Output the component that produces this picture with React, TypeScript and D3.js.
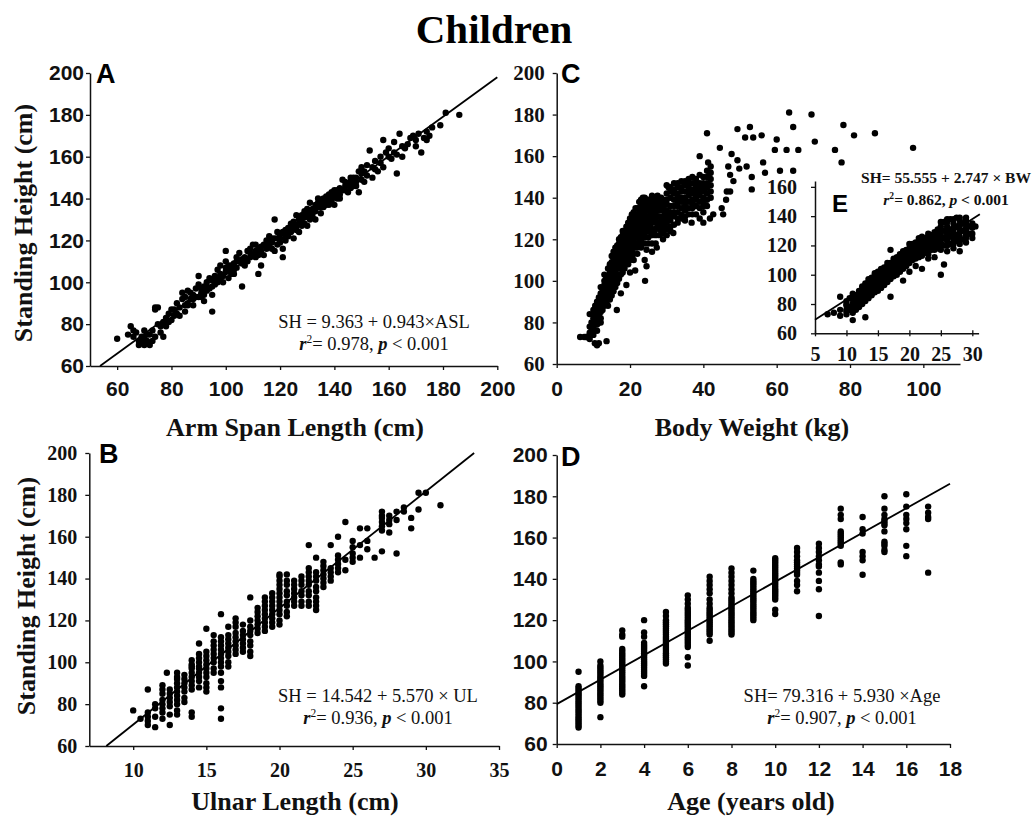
import React, { useEffect, useRef } from 'react';
import * as d3 from 'd3';

// panel A: arm span length vs standing height
const armSpan: [number, number][] = [
  [60,73],[64,75],[65,79],[66,77],[66,74],[67,76],[68,72],[68,70],[69,74],[69,71],[70,73],[70,77],[70,70],[71,72],[71,75],[72,70],[72,75],[73,77],[73,72],[74,74],[74,87],[74,88],[75,88],[75,80],[76,79],[76,76],[77,74],[77,81],[78,83],[78,79],[79,85],[79,81],[80,87],[80,82],[81,84],[81,87],[82,90],[82,85],[83,88],[83,84],[84,92],[84,95],[85,86],[85,93],[85,89],[86,96],[86,90],[86,89],[87,92],[87,95],[88,94],[88,89],[89,97],[89,93],[90,93],[90,99],[90,103],[91,95],[91,97],[92,98],[92,91],[92,94],[93,100],[93,96],[94,102],[94,97],[95,98],[95,86],[95,94],[96,103],[96,99],[97,100],[97,106],[97,101],[98,104],[98,108],[99,100],[99,103],[100,110],[100,105],[100,115],[101,102],[101,106],[102,108],[102,104],[103,106],[103,109],[104,112],[104,107],[105,110],[105,114],[106,98],[106,109],[107,112],[107,110],[108,115],[108,110],[109,116],[109,112],[110,113],[110,118],[111,112],[111,115],[112,104],[112,116],[113,108],[113,117],[114,118],[114,113],[115,120],[115,116],[116,117],[116,122],[117,119],[117,121],[118,115],[118,121],[118,130],[119,124],[119,121],[120,119],[120,123],[121,116],[121,112],[121,124],[122,125],[122,120],[123,122],[123,126],[124,128],[124,124],[125,126],[125,121],[125,129],[126,132],[126,127],[127,128],[127,124],[128,130],[128,127],[129,134],[129,131],[130,127],[130,132],[131,138],[131,133],[132,135],[132,131],[133,130],[133,137],[134,140],[134,136],[135,136],[135,139],[136,138],[137,141],[137,137],[138,139],[138,142],[139,143],[139,139],[140,141],[140,137],[141,144],[141,140],[142,142],[142,145],[143,149],[144,146],[144,144],[145,143],[145,147],[146,148],[146,145],[147,150],[148,146],[148,150],[149,143],[149,153],[150,155],[150,152],[151,148],[152,156],[153,163],[154,155],[154,150],[155,158],[156,153],[157,157],[158,168],[159,162],[160,164],[161,159],[162,167],[163,152],[163,161],[164,171],[165,165],[166,164],[168,169],[169,170],[170,165],[172,162],[173,169],[174,172],[175,170],[179,175],[181,181],[186,180],
  [88,92],[91,93],[93,98],[95,101],[96,101],[98,102],[100,107],[101,108],[103,104],[104,110],[106,111],[107,108],[109,114],[111,118],[112,113],[113,115],[115,118],[116,119],[117,116],[119,118],[120,121],[122,122],[123,124],[124,126],[126,125],[127,130],[128,132],[129,128],[130,135],[131,130],[132,133],[133,134],[134,138],[135,133],[136,136],[136,140],[138,137],[139,141],[140,144],[141,142],[142,140],[143,144],[144,148],[146,150],[147,146],[148,148],[150,149],[151,153],[152,151],[155,154],[157,160],[158,155],[160,160],[162,162],[165,160],[167,166],[170,168],[171,171],[174,168],[176,174]
];

// panel B: ulnar length vs standing height
const ulnar: [number, number][] = [
  [10,77],[10.5,73],[11,87],[11,76],[11,74],[11,72],[11,70],[11.5,69],[11.5,74],[11.5,78],[11.5,80],[12,73],[12,78],[12,82],[12,85],[12,89],[12.3,95],[12.5,70],[12.5,79],[12.5,83],[12.5,87],[13,75],[13,80],[13,84],[13,88],[13,92],[13,95],[13.5,81],[13.5,86],[13.5,90],[13.5,94],[14,74],[14,76],[14,87],[14,91],[14,95],[14,98],[14,101],[14.5,88],[14.5,93],[14.5,97],[14.5,100],[14.5,104],[14.5,109],[15,86],[15,90],[15,95],[15,99],[15,103],[15,116],[15.5,95],[15.5,100],[15.5,104],[15.5,108],[15.5,113],[16,73],[16,78],[16,88],[16,91],[16,95],[16,100],[16,104],[16,108],[16,112],[16,123],[16.5,98],[16.5,103],[16.5,107],[16.5,111],[16.5,117],[17,104],[17,108],[17,112],[17,117],[17,121],[17.5,105],[17.5,109],[17.5,113],[17.5,118],[18,103],[18,108],[18,113],[18,117],[18,120],[18,131],[18.5,114],[18.5,118],[18.5,122],[18.5,126],[19,115],[19,119],[19,123],[19,127],[19,131],[19.5,117],[19.5,121],[19.5,125],[19.5,129],[19.5,133],[20,118],[20,123],[20,127],[20,131],[20,135],[20,139],[20,142],[20.5,122],[20.5,127],[20.5,132],[20.5,137],[20.5,142],[21,127],[21,131],[21,135],[21,139],[21.5,127],[21.5,132],[21.5,137],[21.5,141],[22,127],[22,132],[22,137],[22,141],[22,145],[22,156],[22.5,125],[22.5,129],[22.5,134],[22.5,139],[22.5,143],[22.5,150],[23,136],[23,140],[23,144],[23,148],[23.5,139],[23.5,143],[23.5,156],[24,143],[24,147],[24,151],[24,160],[24.5,144],[24.5,149],[24.5,167],[25,148],[25,152],[25,155],[25,158],[25.5,150],[25.5,156],[25.5,164],[26,154],[26,158],[26,164],[26.5,150],[27,153],[27,163],[27,167],[27,170],[27,172],[27.5,162],[27.5,166],[27.5,170],[28,152],[28,168],[28,172],[28.5,172],[28.5,174],[29,164],[29,169],[29.5,173],[29.5,181],[30,181],[31,175],
  [12,76],[12,80],[12,87],[12.5,75],[12.5,81],[12.5,85],[13,77],[13,82],[13,86],[13,90],[13,93],[13.5,83],[13.5,88],[13.5,92],[14,89],[14,93],[14,97],[14,99],[14.5,91],[14.5,95],[14.5,98],[14.5,102],[15,88],[15,93],[15,97],[15,101],[15,105],[15.5,97],[15.5,102],[15.5,106],[15.5,110],[16,98],[16,102],[16,106],[16,110],[16.5,100],[16.5,105],[16.5,109],[16.5,113],[17,106],[17,110],[17,114],[17,119],[17.5,107],[17.5,111],[17.5,115],[18,105],[18,110],[18,115],[18.5,116],[18.5,120],[18.5,124],[19,117],[19,121],[19,125],[19,129],[19.5,119],[19.5,123],[19.5,127],[19.5,131],[20,120],[20,125],[20,129],[20,133],[20,137],[20,141],[20.5,124],[20.5,129],[20.5,134],[20.5,139],[21,129],[21,133],[21,137],[21.5,129],[21.5,134],[21.5,139],[22,129],[22,134],[22,139],[22,143],[22.5,127],[22.5,131],[22.5,136],[22.5,141],[23,138],[23,142],[23,146],[23.5,141],[23.5,145],[24,145],[24,149],[25,150],[27,165],[27,169],[27.5,168]
];

// panel C: body weight vs standing height (all children)
const weight: [number, number][] = [
  [6.4,73],[7.5,73],[8,73],[8.2,73],[8.5,73],[9,72],[9,75],[9,78],[9.5,80],[9,84],[10,74],[10,77],[10,82],[10,86],[10.4,70],[10.5,79],[10.5,84],[10.5,88],[11,69],[11,76],[11,81],[11,86],[11,90],[11.5,70],[11.5,83],[11.5,88],[11.5,92],[12,80],[12,85],[12,90],[12,94],[12.5,86],[12.5,92],[12.5,96],[13,88],[13,93],[13,97],[13,100],[13.6,71],[13.5,90],[13.5,95],[13.5,99],[14,88],[14,94],[14,98],[14,102],[14.5,91],[14.5,96],[14.5,100],[14.5,104],[15,93],[15,98],[15,102],[15,106],[15.5,95],[15.5,100],[15.5,104],[15.5,108],[16,97],[16,101],[16,105],[16,110],[16.4,86],[16.5,99],[16.5,103],[16.5,108],[16.5,113],[17,101],[17,106],[17,110],[17,115],[17.5,94],[17.5,103],[17.5,108],[17.5,112],[17.5,117],[18,104],[18,109],[18,114],[18,119],[18.5,106],[18.5,111],[18.5,116],[18.5,121],[19,98],[19,108],[19,113],[19,118],[19,123],[19.5,110],[19.5,115],[19.5,120],[19.5,125],[20,104],[20,112],[20,117],[20,122],[20,127],[20.5,114],[20.5,119],[20.5,124],[20.5,129],[21,110],[21,116],[21,121],[21,126],[21,130],[21.4,105],[22,113],[22,118],[22,123],[22,128],[22,132],[23,116],[23,120],[23,125],[23,130],[23,135],[23,139],[24,110],[24,118],[24,123],[24,128],[24,133],[24,138],[24,140],[24.1,100],[24.5,107],[24.5,115],[25,121],[25,126],[25,131],[25,136],[26,114],[26,122],[26,128],[26,134],[26,139],[27,118],[27.3,116],[27,125],[27,130],[27,136],[27,140],[28,122],[28,128],[28,134],[28,139],[29,120],[29,126],[29,131],[29,136],[30,125],[30,130],[30,134],[30,139],[30.5,145],[31,124],[31,129],[31,133],[31,140],[31.8,123],[32,131],[32,136],[32,144],[33,128],[33,133],[33,138],[33,142],[34,130],[34,135],[34,140],[34,145],[35,131],[35,136],[35,140],[35,146],[36,132],[36,138],[36,143],[36,147],[36.8,128],[37,135],[37,139],[37,144],[37,147],[38,136],[38,141],[38,145],[38,149],[39,130],[39,138],[39,143],[39,147],[39,160],[40,128],[40,136],[40,140],[40,145],[40,150],[40.4,144],[41,139],[41,142],[41,147],[41,153],[41,171],[41.3,157],[41.8,152],[41.8,130],[42,140],[42,146],[42,155],[42.7,132],[44.5,164],[45,135],[45.4,132],[46.2,139],[46.4,143],[46.8,155],[47.3,143],[47.3,151],[47.7,161],[48.2,148],[49.3,173],[49.3,158],[49.8,154],[51.4,169],[51.8,155],[52.7,174],[53.2,150],[53.2,144],[53.6,169],[55.9,170],[56.3,157],[56.8,152],[59.5,163],[60,168],[60.9,153],[62.7,163],[63.4,181],[64.5,174],[64.5,153],[65.9,163],[69.5,180],[70.4,167],[75.9,163],[77.7,157],[78.2,175],[81.1,170],[86.8,171],[97.2,164],
  [9.5,76],[10,79],[10,84],[10.5,81],[10.5,86],[11,79],[11,83],[11,88],[11.5,80],[11.5,85],[11.5,90],[12,82],[12,87],[12,92],[12,97],[12.5,89],[12.5,94],[13,90],[13,95],[13,98],[13,103],[13.5,92],[13.5,97],[13.5,102],[14,91],[14,96],[14,100],[14,106],[14.5,93],[14.5,98],[14.5,102],[14.5,108],[15,95],[15,100],[15,104],[15,109],[15,112],[15.5,98],[15.5,102],[15.5,106],[15.5,111],[15.5,114],[16,99],[16,103],[16,107],[16,114],[16,116],[16.5,101],[16.5,106],[16.5,111],[16.5,117],[17,103],[17,108],[17,113],[17,118],[17,120],[17.5,106],[17.5,110],[17.5,115],[17.5,121],[18,106],[18,112],[18,117],[18,122],[18,124],[18.5,109],[18.5,114],[18.5,119],[18.5,124],[19,111],[19,116],[19,121],[19,126],[19.5,108],[19.5,113],[19.5,118],[19.5,123],[19.5,128],[20,110],[20,115],[20,120],[20,125],[20,130],[20.5,112],[20.5,117],[20.5,122],[20.5,127],[20.5,132],[21,113],[21,119],[21,124],[21,128],[21,133],[21.5,116],[21.5,121],[21.5,126],[21.5,131],[21.5,135],[22,116],[22,121],[22,126],[22,130],[22,135],[22.5,119],[22.5,124],[22.5,129],[22.5,134],[22.5,138],[23,118],[23,123],[23,128],[23,133],[23,137],[23.5,121],[23.5,126],[23.5,131],[23.5,136],[23.5,140],[24,121],[24,126],[24,131],[24,136],[24.5,124],[24.5,129],[24.5,134],[24.5,139],[25,118],[25,124],[25,129],[25,134],[25,139],[25.5,127],[25.5,132],[25.5,137],[26,118],[26,125],[26,131],[26,136],[26,141],[26.5,123],[26.5,129],[26.5,134],[26.5,139],[27,122],[27,128],[27,133],[27,138],[27.5,126],[27.5,131],[27.5,136],[27.5,141],[28,125],[28,131],[28,137],[28.5,124],[28.5,129],[28.5,134],[28.5,140],[29,123],[29,129],[29,134],[29,139],[29.5,127],[29.5,132],[29.5,137],[30,122],[30,128],[30,132],[30,137],[30,142],[30,146],[31,126],[31,131],[31,136],[31,143],[31,145],[32,127],[32,133],[32,139],[32,142],[32,147],[33,130],[33,136],[33,140],[33,145],[33,147],[34,132],[34,138],[34,143],[34,148],[35,129],[35,134],[35,138],[35,143],[35,148],[36,135],[36,141],[36,145],[36,149],[37,132],[37,137],[37,142],[37,150],[38,132],[38,139],[38,143],[38,147],[39,135],[39,141],[39,145],[39,151],[40,133],[40,138],[40,143],[40,147],[41,136],[41,145],[41,150],[42,143],[42,149],[42,152]
];

// panel E: inset, body weight 5-30 kg
const weightInset: [number, number][] = [
  [7,73],[8,74],[9,72],[9,76],[9,85],[10,73],[10,76],[10,79],[10,82],[10.5,78],[10.5,84],[11,69],[11,74],[11,77],[11,80],[11,83],[11,87],[11.5,76],[11.5,82],[11.5,86],[12,78],[12,81],[12,85],[12,89],[12.5,80],[12.5,84],[12.5,88],[12.5,92],[13,71],[13,82],[13,86],[13,90],[13,94],[13.5,84],[13.5,88],[13.5,92],[13.5,97],[14,86],[14,90],[14,94],[14,98],[14.5,88],[14.5,92],[14.5,96],[14.5,101],[15,89],[15,94],[15,98],[15,102],[15.5,91],[15.5,96],[15.5,100],[15.5,104],[16,93],[16,97],[16,101],[16,105],[16.5,95],[16.5,99],[16.5,103],[16.5,108],[17,85],[17,97],[17,101],[17,105],[17,117],[17.5,99],[17.5,103],[17.5,107],[17.5,111],[18,100],[18,104],[18,108],[18,112],[18.5,102],[18.5,106],[18.5,110],[18.5,114],[19,96],[19,104],[19,108],[19,112],[19,116],[19.5,106],[19.5,110],[19.5,114],[20,102],[20,108],[20,112],[20,116],[20,121],[20.5,110],[20.5,114],[20.5,118],[21,106],[21,111],[21,115],[21,119],[21.5,112],[21.5,117],[21.5,122],[22,104],[22,113],[22,118],[22,123],[22.5,115],[22.5,120],[22.5,125],[23,111],[23,116],[23,121],[23,126],[23.5,117],[23.5,122],[23.5,127],[24,112],[24,119],[24,124],[24,129],[24.5,120],[24.5,126],[24.5,131],[25,100],[25,117],[25,122],[25,127],[25,133],[25.5,107],[25.5,120],[25.5,125],[25.5,130],[25.5,136],[26,116],[26,123],[26,128],[26,133],[26,138],[26.5,121],[26.5,126],[26.5,131],[26.5,138],[27,118],[27,124],[27,129],[27,135],[27.5,123],[27.5,127],[27.5,133],[27.5,139],[28,116],[28,121],[28,126],[28,131],[28,137],[28.5,124],[28.5,130],[28.5,135],[29,122],[29,127],[29,132],[29,137],[29.5,128],[29.5,133],[30,128],[30,132],
  [10,75],[10,80],[10.5,76],[11,78],[11,85],[11.5,79],[11.5,84],[12,83],[12,87],[12.5,86],[12.5,90],[13,84],[13,88],[13,92],[13.5,86],[13.5,90],[13.5,95],[14,88],[14,92],[14,96],[14.5,90],[14.5,94],[14.5,99],[15,91],[15,96],[15,100],[15.5,93],[15.5,98],[15.5,102],[16,95],[16,99],[16,103],[16.5,97],[16.5,101],[16.5,106],[17,99],[17,103],[17,108],[17.5,101],[17.5,105],[17.5,109],[18,102],[18,106],[18,110],[18.5,104],[18.5,108],[18.5,112],[19,106],[19,110],[19,114],[19.5,108],[19.5,112],[19.5,117],[20,110],[20,114],[20,118],[20.5,112],[20.5,116],[20.5,121],[21,113],[21,117],[21,122],[21.5,114],[21.5,119],[21.5,125],[22,116],[22,121],[22,126],[22.5,118],[22.5,123],[23,114],[23,119],[23,124],[23,128],[23.5,120],[23.5,125],[24,117],[24,122],[24,127],[24.5,118],[24.5,123],[24.5,129],[25,120],[25,125],[25,130],[25,136],[26,120],[26,126],[26,131],[26,136],[27,121],[27,127],[27,132],[27,138],[28,124],[28,129],[28,134],[28,139],[29,125],[29,130],[29,135],[29,139],[30,125],[30,135],[30.5,133]
];

// panel D: age groups and the heights measured in each
const ages = [1, 2, 3, 4, 5, 6, 7, 8, 9, 10, 11, 12, 13, 14, 15, 16, 17];
const heightsByAge: number[][] = [
  [95,88,87,86,85,84,83,82,81,80,79,78,77,76,75,74,73,72,71,70,69,68],
  [100,98,97,96,95,94,93,92,91,90,89,88,87,86,85,84,83,82,81,80,73],
  [115,113,112,106,105,104,103,102,101,100,99,98,97,96,95,94,93,92,91,90,89,88,87,86,85,84],
  [120,114,112,109,108,107,106,105,104,103,102,101,100,99,98,97,96,95,94,93,88],
  [124,122,120,119,118,117,116,115,114,113,112,111,110,109,108,107,106,105,104,103,102,101,100,99],
  [132,130,128,126,125,124,123,122,121,120,119,118,117,116,115,114,113,112,111,110,109,108,107,102,98],
  [141,139,137,135,133,130,128,126,125,124,123,122,121,120,119,118,117,116,115,114,113,110],
  [145,143,141,139,137,135,133,131,130,129,128,127,126,125,124,123,122,121,120,119,118,117,116,115,114,113],
  [144,140,139,138,137,136,135,134,133,132,131,130,129,128,127,126,125,124,123,122,121,120],
  [150,149,148,147,146,145,144,143,142,141,140,139,138,137,136,135,134,133,132,131,130,125,123],
  [155,153,151,149,148,147,146,145,144,143,142,139,137,134],
  [157,155,153,151,149,147,146,143,139,135,122],
  [174,171,169,163,162,161,160,159,158,157,156,148,147],
  [170,164,162,153,151,149,142],
  [180,174,171,169,168,167,166,163,158,157,156,154,153],
  [181,175,171,169,167,164,156,151],
  [175,172,170,169,143],
];

const heightTicks = [60, 80, 100, 120, 140, 160, 180, 200];
const armTicks = [60, 80, 100, 120, 140, 160, 180, 200];
const ulnarTicks = [10, 15, 20, 25, 30, 35];
const weightTicks = [0, 20, 40, 60, 80, 100];
const ageTicks = [0, 2, 4, 6, 8, 10, 12, 14, 16, 18];
const insetXTicks = [5, 10, 15, 20, 25, 30];
const insetYTicks = [60, 80, 100, 120, 140, 160];

// regression coefficients [intercept, slope]
const fitA = [9.363, 0.943];
const fitB = [14.542, 5.570];
const fitD = [79.316, 5.930];
const fitE = [55.555, 2.747];

const SANS = '"Liberation Sans", Arial, sans-serif';
const SERIF = '"Liberation Serif", "Times New Roman", serif';

function drawAxes(g, x, y, o) {
  const xa = g.append('g')
    .attr('transform', `translate(0,${y.range()[0]})`)
    .call(d3.axisBottom(x).tickValues(o.xTicks).tickSizeInner(4).tickSizeOuter(0).tickPadding(o.xPad).tickFormat(d3.format('d')));
  const ya = g.append('g')
    .attr('transform', `translate(${x.range()[0]},0)`)
    .call(d3.axisLeft(y).tickValues(o.yTicks).tickSizeInner(4).tickSizeOuter(0).tickPadding(o.yPad).tickFormat(d3.format('d')));
  xa.selectAll('text').attr('font-family', o.xFont).attr('font-size', o.size).attr('font-weight', 'bold').attr('fill', '#111');
  ya.selectAll('text').attr('font-family', o.yFont).attr('font-size', o.size).attr('font-weight', 'bold').attr('fill', '#111');
  [xa, ya].forEach(a => {
    a.select('.domain').attr('stroke', '#111').attr('stroke-width', 1.5);
    a.selectAll('.tick line').attr('stroke', '#111').attr('stroke-width', 1.3);
  });
  return { xa, ya };
}

function drawDots(g, data, x, y) {
  g.append('g')
    .selectAll('circle')
    .data(data)
    .join('circle')
    .attr('cx', d => x(d[0]))
    .attr('cy', d => y(d[1]))
    .attr('r', 3.2)
    .attr('fill', '#000');
}

function drawFit(g, fit, x0, x1, x, y) {
  g.append('line')
    .attr('x1', x(x0)).attr('y1', y(fit[0] + fit[1] * x0))
    .attr('x2', x(x1)).attr('y2', y(fit[0] + fit[1] * x1))
    .attr('stroke', '#000').attr('stroke-width', 1.8);
}

// two-line equation block: "SH = ..." then "r² = ..., p < 0.001"
function drawEquation(g, cx, y1, y2, first, r2, size, bold) {
  const w = bold ? 'bold' : 'normal';
  g.append('text')
    .attr('x', cx).attr('y', y1)
    .attr('text-anchor', 'middle')
    .attr('font-family', SERIF).attr('font-size', size).attr('font-weight', w)
    .attr('fill', '#111')
    .text(first);
  const t = g.append('text')
    .attr('x', cx).attr('y', y2)
    .attr('text-anchor', 'middle')
    .attr('font-family', SERIF).attr('font-size', size).attr('font-weight', w)
    .attr('fill', '#111');
  t.append('tspan').attr('font-style', 'italic').attr('font-weight', 'bold').text('r');
  t.append('tspan').attr('dy', -size * 0.38).attr('font-size', size * 0.62).text('2');
  t.append('tspan').attr('dy', size * 0.38).text(`= ${r2}, `);
  t.append('tspan').attr('font-style', 'italic').attr('font-weight', 'bold').text('p');
  t.append('tspan').text(' < 0.001');
}

function panelLetter(g, x, y, s, size) {
  g.append('text')
    .attr('x', x).attr('y', y)
    .attr('font-family', SANS).attr('font-weight', 'bold').attr('font-size', size)
    .attr('fill', '#000')
    .text(s);
}

function axisTitle(g, x, y, s, rotate) {
  g.append('text')
    .attr('transform', rotate ? `translate(${x},${y}) rotate(-90)` : `translate(${x},${y})`)
    .attr('text-anchor', 'middle')
    .attr('font-family', SERIF).attr('font-weight', 'bold').attr('font-size', 26)
    .attr('fill', '#111')
    .text(s);
}

export default function App() {
  const ref = useRef(null);

  useEffect(() => {
    const svg = d3.select(ref.current);
    svg.selectAll('*').remove();

    svg.append('text')
      .attr('x', 494).attr('y', 43)
      .attr('text-anchor', 'middle')
      .attr('font-family', SERIF).attr('font-weight', 'bold').attr('font-size', 41)
      .attr('fill', '#000')
      .text('Children');

    // A
    const gA = svg.append('g');
    const xA = d3.scaleLinear().domain([50, 200]).range([90, 497.3]);
    const yA = d3.scaleLinear().domain([60, 200]).range([366, 73]);
    drawAxes(gA, xA, yA, { xTicks: armTicks, yTicks: heightTicks, xPad: 11, yPad: 2, xFont: SANS, yFont: SANS, size: 21 });
    drawDots(gA, armSpan, xA, yA);
    drawFit(gA, fitA, (60 - fitA[0]) / fitA[1], 200, xA, yA);
    panelLetter(gA, 96, 83, 'A', 27);
    drawEquation(gA, 374, 328, 350, 'SH = 9.363 + 0.943\u00d7ASL', '0.978', 18.5, false);
    axisTitle(gA, 295, 436, 'Arm Span Length (cm)', false);
    axisTitle(gA, 32, 223, 'Standing Height (cm)', true);

    // B
    const gB = svg.append('g');
    const xB = d3.scaleLinear().domain([7, 35]).range([89.3, 499]);
    const yB = d3.scaleLinear().domain([60, 200]).range([746, 453]);
    drawAxes(gB, xB, yB, { xTicks: ulnarTicks, yTicks: heightTicks, xPad: 13, yPad: 8, xFont: SERIF, yFont: SERIF, size: 20 });
    drawDots(gB, ulnar, xB, yB);
    drawFit(gB, fitB, (60 - fitB[0]) / fitB[1], 33.3, xB, yB);
    panelLetter(gB, 99, 463, 'B', 27);
    drawEquation(gB, 378, 702, 724, 'SH = 14.542 + 5.570 \u00d7 UL', '0.936', 18.5, false);
    axisTitle(gB, 295, 810, 'Ulnar Length (cm)', false);
    axisTitle(gB, 35, 596, 'Standing Height (cm)', true);

    // C
    const gC = svg.append('g');
    const xC = d3.scaleLinear().domain([0, 110]).range([556.7, 960]);
    const yC = d3.scaleLinear().domain([60, 200]).range([364, 73]);
    drawAxes(gC, xC, yC, { xTicks: weightTicks, yTicks: heightTicks, xPad: 13, yPad: 8, xFont: SANS, yFont: SERIF, size: 21 });
    drawDots(gC, weight, xC, yC);
    panelLetter(gC, 561, 83, 'C', 27);
    axisTitle(gC, 752, 436, 'Body Weight (kg)', false);

    // E (inset)
    const gE = svg.append('g');
    const xE = d3.scaleLinear().domain([5, 31]).range([815, 978.6]);
    const yE = d3.scaleLinear().domain([60, 164]).range([333.3, 181]);
    const e = drawAxes(gE, xE, yE, { xTicks: insetXTicks, yTicks: insetYTicks, xPad: 10, yPad: 14, xFont: SERIF, yFont: SERIF, size: 20 });
    e.xa.selectAll('.tick line').attr('y1', -3).attr('y2', 3);
    drawDots(gE, weightInset, xE, yE);
    drawFit(gE, fitE, 5, 31.2, xE, yE);
    panelLetter(gE, 832, 212, 'E', 24);
    drawEquation(gE, 946, 183, 205, 'SH= 55.555 + 2.747 \u00d7 BW', '0.862', 15.5, true);

    // D
    const gD = svg.append('g');
    const xD = d3.scaleLinear().domain([0, 18]).range([556.7, 950]);
    const yD = d3.scaleLinear().domain([60, 200]).range([744, 455]);
    drawAxes(gD, xD, yD, { xTicks: ageTicks, yTicks: heightTicks, xPad: 13, yPad: 5, xFont: SANS, yFont: SANS, size: 21 });
    const ageData = ages.flatMap((a, i) => heightsByAge[i].map(h => [a, h]));
    drawDots(gD, ageData, xD, yD);
    drawFit(gD, fitD, 0, 18, xD, yD);
    panelLetter(gD, 561, 466, 'D', 27);
    drawEquation(gD, 842, 702, 724, 'SH= 79.316 + 5.930 \u00d7Age', '0.907', 18.5, false);
    axisTitle(gD, 751, 810, 'Age (years old)', false);
  }, []);

  return (
    <svg
      ref={ref}
      width={1032}
      height={818}
      style={{ position: 'absolute', left: 0, top: 0, background: '#fff', display: 'block' }}
    />
  );
}
